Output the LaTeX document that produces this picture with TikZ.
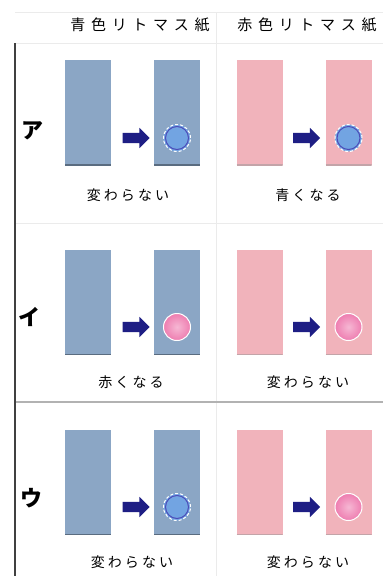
\documentclass[tikz,border=0pt]{standalone}
\usepackage{fontspec}
\usepackage{tikz}
\usetikzlibrary{shapes.arrows}
\newfontfamily\jpfont{Noto Sans CJK JP}
\newfontfamily\jphead[LetterSpace=38]{Noto Sans CJK JP}
\newfontfamily\jplabel[LetterSpace=22]{Noto Sans CJK JP}
\definecolor{paperblue}{HTML}{8BA6C5}
\definecolor{paperpink}{HTML}{F1B3BB}
\definecolor{dotblue}{HTML}{72A4E2}
\definecolor{dotpink}{HTML}{EE7DB0}
\definecolor{arrownavy}{HTML}{1E1E84}

\tikzset{
  bluepaper/.style={fill=paperblue, minimum width=46pt, minimum height=105pt, inner sep=0pt,
    path picture={\draw[paperblue!65!black, line width=2pt] (path picture bounding box.south west)
    -- (path picture bounding box.south east);}},
  pinkpaper/.style={fill=paperpink, minimum width=46pt, minimum height=105pt, inner sep=0pt,
    path picture={\draw[paperpink!70!black!70, line width=2pt] (path picture bounding box.south west)
    -- (path picture bounding box.south east);}},
  turnarrow/.style={single arrow, fill=arrownavy, minimum height=27pt, inner xsep=0pt,
    inner ysep=5pt, single arrow head extend=5pt, single arrow tip angle=90},
  bluedot/.style={circle, fill=dotblue, draw=white, densely dashed, line width=1pt,
    minimum size=27pt, inner sep=0pt, path picture={\draw[solid, draw=blue!60!black!70, line width=1pt]
    (path picture bounding box.center) circle (11.5pt);}},
  pinkdot/.style={circle, inner color=dotpink!55, outer color=dotpink, draw=white, line width=1pt,
    minimum size=27pt, inner sep=0pt},
  headtext/.style={font=\jphead\fontsize{15}{15}\selectfont},
  resulttext/.style={font=\jplabel\fontsize{14}{14}\selectfont},
  rowmark/.style={font=\jpfont\bfseries\fontsize{22}{22}\selectfont}
}

\begin{document}
\begin{tikzpicture}[x=1pt, y=-1pt]
\useasboundingbox[fill=white] (0,0) rectangle (383,576);
% faint grid of the table
\draw[black!8] (15,12) -- (383,12);
\draw[black!8] (15,43) -- (383,43);
\draw[black!8] (15,223) -- (383,223);
\draw[black!8] (216,12) -- (216,576);
\draw[black!30, line width=1.2pt] (15,402) -- (383,402);
\draw[black!75, line width=1.6pt] (15,43) -- (15,576);

% headers
\node[headtext] (headblue) at (140,25) {青色リトマス紙};
\node[headtext] (headpink) at (307,25) {赤色リトマス紙};

% row A
\node[rowmark] (markA) at (32,131) {ア};
\node[bluepaper] (blueA1) at (88,112.5) {};
\node[bluepaper] (blueA2) at (177,112.5) {};
\node[pinkpaper] (pinkA1) at (259.5,112.5) {};
\node[pinkpaper] (pinkA2) at (348.5,112.5) {};
\node[turnarrow] (arrowA1) at (133.5,138) {};
\node[turnarrow] (arrowA2) at (304,138) {};
\node[bluedot] (dotA1) at (177,138) {};
\node[bluedot] (dotA2) at (348.5,138) {};
\node[resulttext] (textA1) at (128,195) {変わらない};
\node[resulttext] (textA2) at (308,195) {青くなる};

% row B
\node[rowmark] (markB) at (30,317) {イ};
\node[bluepaper] (blueB1) at (88,302) {};
\node[bluepaper] (blueB2) at (177,302) {};
\node[pinkpaper] (pinkB1) at (259.5,302) {};
\node[pinkpaper] (pinkB2) at (348.5,302) {};
\node[turnarrow] (arrowB1) at (133.5,327) {};
\node[turnarrow] (arrowB2) at (304,327) {};
\node[pinkdot] (dotB1) at (177,327) {};
\node[pinkdot] (dotB2) at (348.5,327) {};
\node[resulttext] (textB1) at (131,382) {赤くなる};
\node[resulttext] (textB2) at (308,382) {変わらない};

% row C
\node[rowmark] (markC) at (31,498) {ウ};
\node[bluepaper] (blueC1) at (88,482) {};
\node[bluepaper] (blueC2) at (177,482) {};
\node[pinkpaper] (pinkC1) at (259.5,482) {};
\node[pinkpaper] (pinkC2) at (348.5,482) {};
\node[turnarrow] (arrowC1) at (133.5,507) {};
\node[turnarrow] (arrowC2) at (304,507) {};
\node[bluedot] (dotC1) at (177,507) {};
\node[pinkdot] (dotC2) at (348.5,507) {};
\node[resulttext] (textC1) at (132,562) {変わらない};
\node[resulttext] (textC2) at (308,562) {変わらない};
\end{tikzpicture}
\end{document}
